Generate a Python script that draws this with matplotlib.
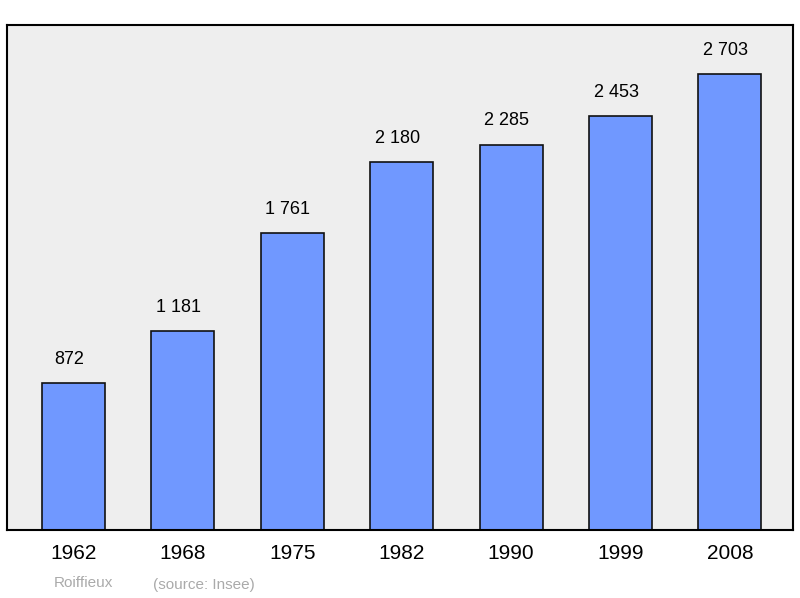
import matplotlib
matplotlib.use("Agg")
import matplotlib.pyplot as plt

years = ["1962", "1968", "1975", "1982", "1990", "1999", "2008"]
values = [872, 1181, 1761, 2180, 2285, 2453, 2703]
labels = ["872", "1 181", "1 761", "2 180", "2 285", "2 453", "2 703"]

plt.rcParams['font.family'] = ['Liberation Sans', 'DejaVu Sans']
fig = plt.figure(figsize=(8, 5.98), dpi=100)
ax = fig.add_axes([7/800, 1-530/598, 786/800, 505/598])
ax.set_facecolor('#eeeeee')
x = list(range(len(years)))
ax.bar(x, values, width=0.576, color='#7098ff', edgecolor='#111111', linewidth=1.2)
for xi, v, l in zip(x, values, labels):
    ax.text(xi - 0.04, v + 90, l, ha='center', va='bottom', fontsize=13)
ax.set_xlim(-0.608, 6.577)
ax.set_ylim(0, 2994)
ax.set_xticks(x)
ax.set_xticklabels(years, fontsize=15)
ax.tick_params(axis='x', length=0, pad=10)
ax.set_yticks([])
for s in ax.spines.values():
    s.set_linewidth(1.5)
fig.text(83/800, 1-583/598, "Roiffieux", color='#aaaaaa', fontsize=11, ha='center', va='center')
fig.text(204/800, 1-585/598, "(source: Insee)", color='#aaaaaa', fontsize=11, ha='center', va='center')
fig.savefig("out.png", dpi=100)
